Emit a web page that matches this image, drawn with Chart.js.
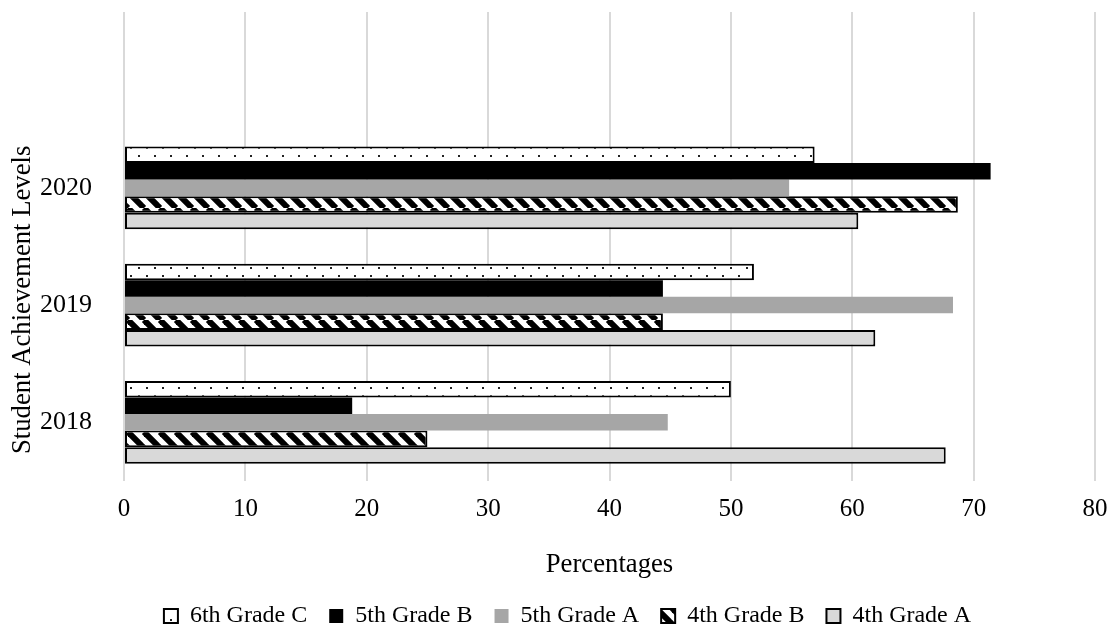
<!DOCTYPE html>
<html lang="en">
<head>
  <meta charset="UTF-8">
  <title>Student Achievement Levels</title>
  <script src="https://cdn.jsdelivr.net/npm/chart.js"></script>
  <style>
    html, body {
      margin: 0;
      padding: 0;
      background-color: #ffffff;
      overflow: hidden;
    }
    .chart-wrap {
      width: 1111px;
      height: 629px;
    }
  </style>
</head>
<body>
  <div class="chart-wrap">
    <canvas id="chart1"></canvas>
  </div>

<script>
  // rows from top to bottom; the first (empty) slot is the blank space Excel left above 2020
  const years = ['2020', '2019', '2018'];
  const categories = [''].concat(years);

  const grade6C = [56.9, 51.9, 50.0];
  const grade5B = [71.4, 44.4, 18.8];
  const grade5A = [54.8, 68.3, 44.8];
  const grade4B = [68.7, 44.4, 25.0];
  const grade4A = [60.5, 61.9, 67.7];

  const xTicks = [0, 10, 20, 30, 40, 50, 60, 70, 80];

  const serif = "'Liberation Serif', 'Times New Roman', serif";

  // small dotted fill
  function dotPattern() {
    const c = document.createElement('canvas');
    c.width = 16; c.height = 16;
    const g = c.getContext('2d');
    g.fillStyle = '#ffffff';
    g.fillRect(0, 0, 16, 16);
    g.fillStyle = '#222222';
    g.fillRect(2, 3, 2, 2);
    g.fillRect(10, 11, 2, 2);
    return g.createPattern(c, 'repeat');
  }

  // wide downward diagonal
  function stripePattern() {
    const c = document.createElement('canvas');
    c.width = 16; c.height = 16;
    const g = c.getContext('2d');
    g.fillStyle = '#ffffff';
    g.fillRect(0, 0, 16, 16);
    g.strokeStyle = '#000000';
    g.lineWidth = 6;
    [-16, 0, 16].forEach(o => {
      g.beginPath();
      g.moveTo(o, 0);
      g.lineTo(o + 16, 16);
      g.stroke();
    });
    return g.createPattern(c, 'repeat');
  }

  const withGap = arr => [null].concat(arr);

  // nudge the legend row a little to the right, like the original
  const legendShift = {
    id: 'legendShift',
    afterLayout(chart) {
      if (chart.legend) {
        chart.legend.left += 20;
        chart.legend.right += 20;
      }
    }
  };

  const ctx = document.getElementById('chart1').getContext('2d');
  new Chart(ctx, {
    type: 'bar',
    data: {
      labels: categories,
      datasets: [
        {
          label: '6th Grade C',
          data: withGap(grade6C),
          backgroundColor: dotPattern(),
          borderColor: '#000000',
          borderWidth: 2
        },
        {
          label: '5th Grade B',
          data: withGap(grade5B),
          backgroundColor: '#000000',
          borderWidth: 0
        },
        {
          label: '5th Grade A',
          data: withGap(grade5A),
          backgroundColor: '#a6a6a6',
          borderWidth: 0
        },
        {
          label: '4th Grade B',
          data: withGap(grade4B),
          backgroundColor: stripePattern(),
          borderColor: '#000000',
          borderWidth: 2
        },
        {
          label: '4th Grade A',
          data: withGap(grade4A),
          backgroundColor: '#d9d9d9',
          borderColor: '#000000',
          borderWidth: 2
        }
      ]
    },
    options: {
      indexAxis: 'y',
      responsive: true,
      maintainAspectRatio: false,
      animation: false,
      categoryPercentage: 0.705,
      barPercentage: 1,
      borderSkipped: false,
      layout: {
        padding: { top: 12, right: 16, bottom: -9, left: 0 }
      },
      plugins: {
        legend: {
          position: 'bottom',
          labels: {
            boxWidth: 14,
            boxHeight: 14,
            padding: 22,
            color: '#000000',
            font: { family: serif, size: 24 }
          }
        },
        tooltip: { enabled: false }
      },
      scales: {
        x: {
          min: 0,
          max: 80,
          afterBuildTicks: axis => {
            axis.ticks = xTicks.map(v => ({ value: v }));
          },
          afterFit: scale => {
            scale.paddingLeft = 0;
            scale.paddingRight = 0;
          },
          grid: {
            color: '#d9d9d9',
            lineWidth: 2,
            drawTicks: false
          },
          border: { display: false },
          ticks: {
            padding: 13,
            color: '#000000',
            font: { family: serif, size: 25 }
          },
          title: {
            display: true,
            text: 'Percentages',
            color: '#000000',
            padding: { top: 12, bottom: 1 },
            font: { family: serif, size: 26.7 }
          }
        },
        y: {
          afterFit: scale => {
            scale.width = 124;
            // labels sit in the middle of each band, so no extra room above/below
            scale.paddingTop = 0;
            scale.paddingBottom = 0;
          },
          grid: { display: false },
          border: { display: false },
          ticks: {
            padding: 24,
            color: '#000000',
            font: { family: serif, size: 26 }
          },
          title: {
            display: true,
            // trailing spaces push the text down to sit beside the three groups
            text: 'Student Achievement Levels' + ' '.repeat(16),
            color: '#000000',
            padding: { top: 7, bottom: 0 },
            font: { family: serif, size: 26.7 }
          }
        }
      }
    },
    plugins: [legendShift]
  });
</script>
</body>
</html>
